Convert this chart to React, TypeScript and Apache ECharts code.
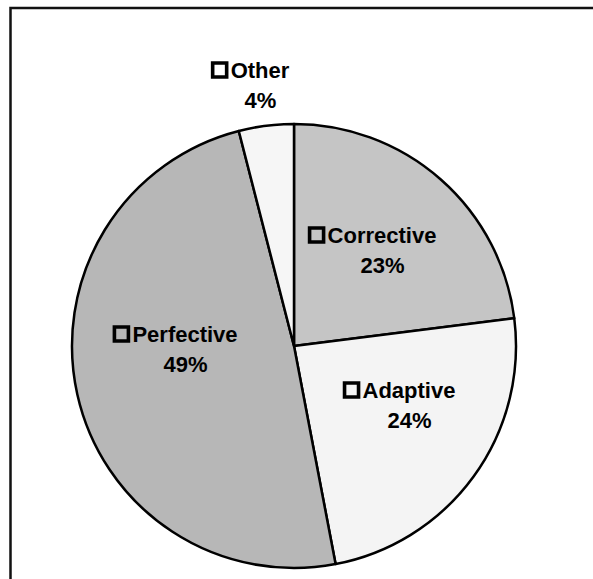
import React, { useEffect, useRef } from "react";
import * as echarts from "echarts";

const categories = ["Corrective", "Adaptive", "Perfective", "Other"];
const shares = [23, 24, 49, 4];
const sliceColors = ["#c5c5c5", "#f4f4f4", "#b7b7b7", "#f6f6f6"];
// label block centres (page pixels)
const labelPositions = [
  [373, 250],
  [400, 405],
  [176, 349],
  [251, 85],
];

export default function App() {
  const ref = useRef<HTMLDivElement>(null);
  useEffect(() => {
    if (!ref.current) return;
    const chart = echarts.init(ref.current, null, { renderer: "svg" });
    const font = "'Liberation Sans', Arial, Helvetica, sans-serif";
    chart.setOption({
      animation: false,
      backgroundColor: "#ffffff",
      graphic: [
        {
          type: "rect",
          shape: { x: 10.5, y: 8, width: 700, height: 700 },
          style: { fill: "none", stroke: "#111", lineWidth: 2.5 },
          z: 10,
        },
      ],
      series: [
        {
          type: "pie",
          center: [294, 346],
          radius: 222,
          startAngle: 90,
          clockwise: true,
          avoidLabelOverlap: false,
          itemStyle: { borderColor: "#000", borderWidth: 2.5 },
          emphasis: { disabled: true },
          labelLine: { show: false },
          label: {
            show: true,
            position: "inside",
            color: "#000",
            fontFamily: font,
            fontWeight: "bold",
            fontSize: 22,
            lineHeight: 30,
            align: "center",
            formatter: (p: any) => `{sq|}{gap|}{name|${p.name}}\n{pad|}{pct|${p.value}%}`,
            rich: {
              sq: {
                width: 14,
                height: 14,
                borderColor: "#000",
                borderWidth: 1.8,
                backgroundColor: "transparent",
                verticalAlign: "middle",
              },
              gap: { width: 4 },
              pad: { width: 19 },
              name: {
                fontFamily: font,
                fontWeight: "bold",
                fontSize: 22,
                color: "#000",
                lineHeight: 30,
              },
              pct: {
                fontFamily: font,
                fontWeight: "bold",
                fontSize: 22,
                color: "#000",
                lineHeight: 30,
              },
            },
          },
          labelLayout: (params: any) => {
            const pos = labelPositions[params.dataIndex];
            return { x: pos[0], y: pos[1], align: "center", verticalAlign: "middle" };
          },
          data: categories.map((name, i) => ({
            name,
            value: shares[i],
            itemStyle: { color: sliceColors[i] },
          })),
        },
      ],
    });
    return () => chart.dispose();
  }, []);
  return (
    <div
      ref={ref}
      style={{ position: "fixed", left: 0, top: 0, width: 593, height: 579 }}
    />
  );
}
